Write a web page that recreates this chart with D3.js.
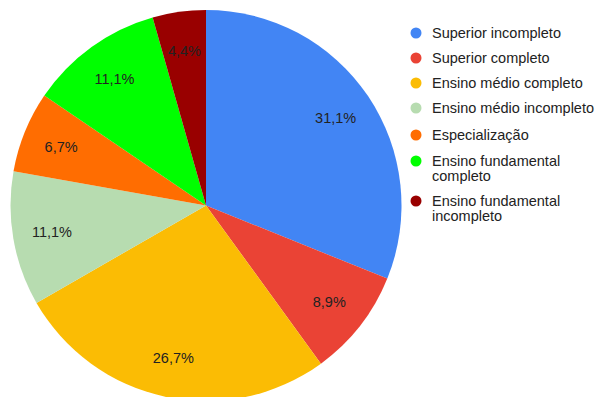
<!DOCTYPE html>
<html>
<head>
<meta charset="utf-8">
<script src="https://cdn.jsdelivr.net/npm/d3@7"></script>
<style>
  html, body { margin: 0; padding: 0; background: #fff; }
  svg { display: block; font-family: "Liberation Sans", Arial, sans-serif; }
</style>
</head>
<body>
<svg id="chart" width="596" height="397"></svg>
<script>
// Escolaridade dos respondentes (percentual)
const categories = [
  "Superior incompleto",
  "Superior completo",
  "Ensino médio completo",
  "Ensino médio incompleto",
  "Especialização",
  "Ensino fundamental completo",
  "Ensino fundamental incompleto"
];
const values = [31.1, 8.9, 26.7, 11.1, 6.7, 11.1, 4.4];
const colors = ["#4285f4", "#ea4335", "#fbbc04", "#b7dcb0", "#ff6d01", "#00ff00", "#990000"];
// Legend entries wrapped as lines
const legendLines = [
  ["Superior incompleto"],
  ["Superior completo"],
  ["Ensino médio completo"],
  ["Ensino médio incompleto"],
  ["Especialização"],
  ["Ensino fundamental", "completo"],
  ["Ensino fundamental", "incompleto"]
];

const svg = d3.select("#chart");
const cx = 206, cy = 205.5, r = 195.5;

const data = categories.map((c, i) => ({ name: c, value: values[i], color: colors[i] }));
const pie = d3.pie().sort(null).value(d => d.value);
const arcs = pie(data);
const arc = d3.arc().innerRadius(0).outerRadius(r);
const labelArc = d3.arc().innerRadius(r * 0.8).outerRadius(r * 0.8);

const g = svg.append("g").attr("transform", `translate(${cx},${cy})`);

g.selectAll("path.slice")
  .data(arcs)
  .join("path")
  .attr("class", "slice")
  .attr("d", arc)
  .attr("fill", d => d.data.color);

const fmt = v => v.toFixed(1).replace(".", ",") + "%";

g.selectAll("text.lbl")
  .data(arcs)
  .join("text")
  .attr("class", "lbl")
  .attr("transform", d => `translate(${labelArc.centroid(d)})`)
  .attr("text-anchor", "middle")
  .attr("dominant-baseline", "central")
  .attr("font-size", 14.5)
  .attr("fill", "#222")
  .text(d => fmt(d.data.value));

// Legend
const legendY = [33, 58, 83, 108, 135, 161, 201];
const leg = svg.append("g");
const items = leg.selectAll("g.item")
  .data(data)
  .join("g")
  .attr("class", "item")
  .attr("transform", (d, i) => `translate(416,${legendY[i]})`);

items.append("circle")
  .attr("r", 5.5)
  .attr("fill", d => d.color);

items.each(function (d, i) {
  const t = d3.select(this).append("text")
    .attr("x", 16)
    .attr("font-size", 14.5)
    .attr("fill", "#222");
  legendLines[i].forEach((line, j) => {
    t.append("tspan")
      .attr("x", 16)
      .attr("y", j * 15)
      .attr("dominant-baseline", "central")
      .text(line);
  });
});
</script>
</body>
</html>
